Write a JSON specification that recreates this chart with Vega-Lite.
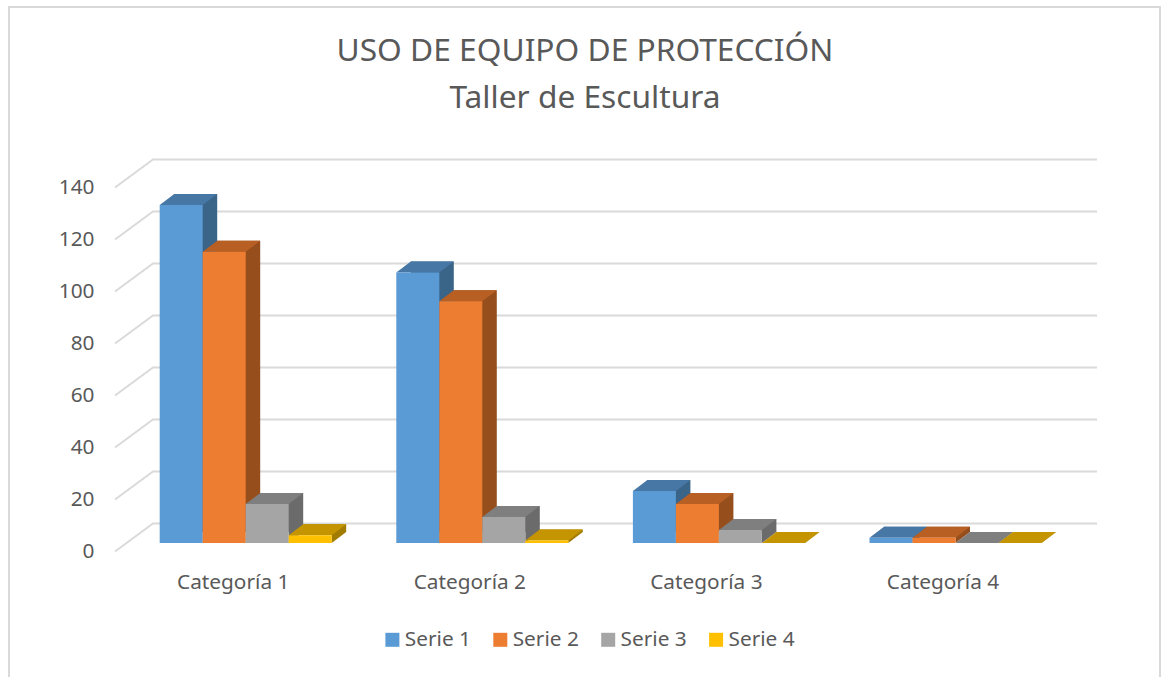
{
"$schema":"https://vega.github.io/schema/vega-lite/v6.json",
"width":945,"height":364,
"autosize":{"type":"none"},
"padding":{"left":152,"top":179,"right":66,"bottom":134},
"background":"white",
"config":{"view":{"stroke":null},"font":"Noto Sans","text":{"font":"Noto Sans"}},
"title":{"text":["USO DE EQUIPO DE PROTECCIÓN","Taller de Escultura"],"frame":"group","anchor":"middle","dx":-39.5,"offset":0,"dy":112,"fontSize":31.7,"fontWeight":"normal","font":"Noto Sans","color":"#595959","lineHeight":47},
"datasets":{
"bars":[
{"cat":"Categoría 1","serie":"Serie 1","v":130},
{"cat":"Categoría 1","serie":"Serie 2","v":112},
{"cat":"Categoría 1","serie":"Serie 3","v":15},
{"cat":"Categoría 1","serie":"Serie 4","v":3},
{"cat":"Categoría 2","serie":"Serie 1","v":104},
{"cat":"Categoría 2","serie":"Serie 2","v":93},
{"cat":"Categoría 2","serie":"Serie 3","v":10},
{"cat":"Categoría 2","serie":"Serie 4","v":1},
{"cat":"Categoría 3","serie":"Serie 1","v":20},
{"cat":"Categoría 3","serie":"Serie 2","v":15},
{"cat":"Categoría 3","serie":"Serie 3","v":5},
{"cat":"Categoría 3","serie":"Serie 4","v":0},
{"cat":"Categoría 4","serie":"Serie 1","v":2},
{"cat":"Categoría 4","serie":"Serie 2","v":2},
{"cat":"Categoría 4","serie":"Serie 3","v":0},
{"cat":"Categoría 4","serie":"Serie 4","v":0}
],
"grid":[
{"cat":"Categoría 1","tick":0},{"cat":"Categoría 1","tick":20},{"cat":"Categoría 1","tick":40},{"cat":"Categoría 1","tick":60},
{"cat":"Categoría 1","tick":80},{"cat":"Categoría 1","tick":100},{"cat":"Categoría 1","tick":120},{"cat":"Categoría 1","tick":140}
],
"frame":[{"cat":"Categoría 1","tick":0}]
},
"layer":[
{"data":{"name":"frame"},
 "mark":{"type":"point","filled":false,"shape":"M-236.7,140L-236.7,-536L914.3,-536L914.3,140","size":4,"stroke":"#d9d9d9","strokeWidth":2,"opacity":1,"clip":false},
 "encoding":{"x":{"field":"cat","type":"nominal","axis":{"title":null,"labelAngle":0,"ticks":false,"domain":false,"grid":false,"labelPadding":29,"labelOffset":-12.5,"labelFontSize":20.8,"labelColor":"#595959","labelFont":"Noto Sans"},"scale":{"domain":["Categoría 1","Categoría 2","Categoría 3","Categoría 4"],"range":[-24.6,921.8],"paddingInner":0.273,"paddingOuter":0.1365}},
 "y":{"field":"tick","type":"quantitative","axis":{"title":null,"values":[0,20,40,60,80,100,120,140],"ticks":false,"domain":false,"grid":false,"labelPadding":58,"labelOffset":8,"labelFontSize":20.8,"labelColor":"#595959","labelFont":"Noto Sans"},"scale":{"domain":[0,140],"nice":false}}}},
{"data":{"name":"grid"},
 "mark":{"type":"point","filled":false,"shape":"M-130.7,8.5L-92.7,-19.5L851.3,-19.5","size":4,"stroke":"#dadada","strokeWidth":2,"opacity":1},
 "encoding":{"x":{"field":"cat","type":"nominal"},
 "y":{"field":"tick","type":"quantitative"}}},
{"data":{"name":"bars"},
 "mark":{"type":"bar","yOffset":-11,"y2Offset":-11},
 "encoding":{"x":{"field":"cat","type":"nominal"},"xOffset":{"field":"serie","type":"nominal","scale":{"range":[14.5,186.5]}},
 "y":{"field":"v","type":"quantitative","stack":null},
 "y2":{"datum":0},
 "color":{"field":"serie","type":"nominal","legend":null,"scale":{"domain":["Serie 1","Serie 2","Serie 3","Serie 4"],"range":["#3b6489","#964f1c","#6b6b6b","#a27c00"]}}}},
{"data":{"name":"bars"},
 "mark":{"type":"point","filled":true,"shape":"M21.5,0L36,-11L21.5,-11Z","size":4,"opacity":1},
 "encoding":{"x":{"field":"cat","type":"nominal"},"xOffset":{"field":"serie","type":"nominal"},
 "y":{"datum":0,"type":"quantitative"},
 "color":{"field":"serie","type":"nominal","legend":null,"scale":{"domain":["Serie 1","Serie 2","Serie 3","Serie 4"],"range":["#3b6489","#964f1c","#6b6b6b","#a27c00"]}}}},
{"data":{"name":"bars"},
 "mark":{"type":"point","filled":true,"shape":"M-21.5,0L21.5,0L36,-11L-7,-11Z","size":4,"opacity":1},
 "encoding":{"x":{"field":"cat","type":"nominal"},"xOffset":{"field":"serie","type":"nominal"},
 "y":{"field":"v","type":"quantitative"},
 "color":{"field":"serie","type":"nominal","legend":null,"scale":{"domain":["Serie 1","Serie 2","Serie 3","Serie 4"],"range":["#4677a5","#b85f24","#7f7f7f","#c49500"]}}}},
{"data":{"name":"bars"},
 "mark":{"type":"bar"},
 "encoding":{"x":{"field":"cat","type":"nominal"},"xOffset":{"field":"serie","type":"nominal"},
 "y":{"field":"v","type":"quantitative","stack":null},
 "color":{"field":"serie","type":"nominal","scale":{"domain":["Serie 1","Serie 2","Serie 3","Serie 4"],"range":["#5b9bd5","#ed7d31","#a5a5a5","#ffc000"]},
 "legend":{"title":null,"orient":"none","legendX":230,"legendY":450,"direction":"horizontal","columns":4,"symbolType":"square","symbolSize":196,"symbolStrokeWidth":0,"labelFontSize":20.8,"labelColor":"#595959","labelFont":"Noto Sans","labelOffset":2,"columnPadding":18.9}}}}
],
"resolve":{"scale":{"color":"independent","xOffset":"independent"}}
}
